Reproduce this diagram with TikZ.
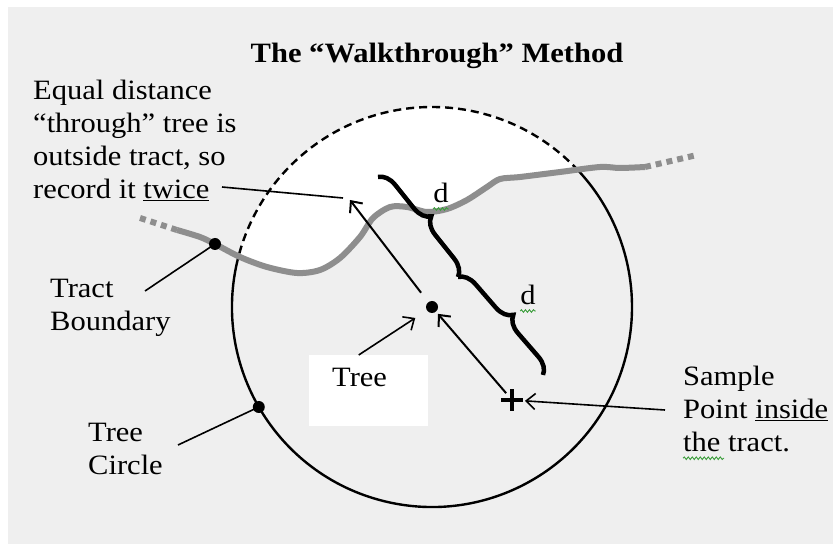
\documentclass[tikz,border=0pt]{standalone}
\usepackage{fontspec}
\setmainfont{Liberation Serif}[FakeStretch=1.09]
\usetikzlibrary{arrows.meta,decorations.pathreplacing,decorations.pathmorphing}
\definecolor{pagegray}{HTML}{EFEFEF}
\definecolor{tractgray}{HTML}{8E8E8E}
\definecolor{spellgreen}{HTML}{3C9E3C}

\begin{document}
\begin{tikzpicture}[x=1pt,y=1pt,
		lbl/.style={inner sep=0pt, font=\fontsize{28}{33}\selectfont, align=left},
		walk/.style={line width=2pt, -{Straight Barb[length=9pt,width=16pt]}},
		leader/.style={line width=1.6pt},
		tract/.style={line width=6pt, tractgray},
		tract end/.style={tract, dash pattern=on 6pt off 5pt},
		ring/.style={line width=2.4pt},
		bracket/.style={line width=4.5pt, decorate, decoration={brace, amplitude=17pt}},
		squig/.style={spellgreen, line width=0.9pt, decorate, decoration={snake, amplitude=1.3pt, segment length=4pt}},
		spot/.style={circle, fill=black, inner sep=0pt, minimum size=12pt}]
	\useasboundingbox (0,0) rectangle (833,544);
	\fill[white] (0,0) rectangle (833,544);
	\fill[pagegray] (8,0) rectangle (833,537);

	\coordinate (tree) at (432,237);
	\coordinate (sample) at (512,144);
	\coordinate (through) at (350,344);

	% part of the circle outside the tract
	\begin{scope}
		\clip (tree) circle (200);
		\fill[white] plot[smooth] coordinates {(177,314) (200,307) (215,300) (240,287) (267,277) (297,271) (320,274) (340,286) (360,307) (373,326) (390,337) (407,337) (427,332) (447,335) (467,344) (487,357) (500,365) (520,367) (560,372) (600,377) (620,376) (645,377)} -- (645,544) -- (177,544) -- cycle;
	\end{scope}

	% tree circle
	\draw[ring, dash pattern=on 8pt off 5pt] ([shift={(43:200)}]tree) arc[start angle=43, end angle=166, radius=200];
	\draw[ring] ([shift={(166:200)}]tree) arc[start angle=166, end angle=403, radius=200];

	% tract boundary
	\draw[tract] plot[smooth] coordinates {(177,314) (200,307) (215,300) (240,287) (267,277) (297,271) (320,274) (340,286) (360,307) (373,326) (390,337) (407,337) (427,332) (447,335) (467,344) (487,357) (500,365) (520,367) (560,372) (600,377) (620,376) (645,377)};
	\draw[tract end] (140,326) -- (177,314);
	\draw[tract end] (645,377) -- (697,389);

	\node[spot] (bdot) at (215,300) {};
	\node[spot] (cdot) at ([shift={(210:200)}]tree) {};
	\node[spot] (treedot) at (tree) {};
	\draw[line width=4.5pt] ([xshift=-11pt]sample) -- ([xshift=11pt]sample)
		([yshift=-11pt]sample) -- ([yshift=11pt]sample);

	% braces
	\coordinate (b1) at (378,367);
	\coordinate (b2) at (458,267);
	\coordinate (b3) at (543,169);
	\draw[bracket] (b1) -- (b2);
	\draw[bracket] (b2) -- (b3);
	\node[lbl, anchor=base] (d1) at (441,341) {d};
	\node[lbl, anchor=base] (d2) at (528,239) {d};
	\draw[squig] ([yshift=-6pt]d1.base west) -- ([yshift=-6pt]d1.base east);
	\draw[squig] ([yshift=-6pt]d2.base west) -- ([yshift=-6pt]d2.base east);

	% labels
	\node[lbl, font=\bfseries\fontsize{28}{33}\selectfont, anchor=base] (title) at (437,481) {The “Walkthrough” Method};
	\node[lbl, anchor=north west] (equal) at (33,464) {Equal distance\\“through” tree is\\outside tract, so\\record it \underline{twice}};
	\node[lbl, anchor=north west] (tractlbl) at (50,265) {Tract\\Boundary};
	\node[lbl, anchor=north west] (circlelbl) at (88,121) {Tree\\Circle};
	\node[lbl, anchor=north west] (samplelbl) at (683,178) {Sample\\Point \underline{inside}\\the tract.};
	\draw[squig] ([yshift=-6pt]samplelbl.south west) -- ++(41,0);
	\node[fill=white, font=\fontsize{28}{33}\selectfont, anchor=north west, inner xsep=23pt, inner ysep=13pt,
		text width=73pt, text height=18.5pt, text depth=26.5pt, align=left] (treebox) at (309,189) {Tree};

	% arrows and leaders
	\coordinate (twicept) at (222,357);
	\coordinate (tractpt) at (145,253);
	\coordinate (circlept) at (178,99);
	\coordinate (samplefoot) at (665,134);
	\draw[walk, shorten <=9pt, shorten >=9pt] (sample) -- (tree);
	\draw[walk, shorten <=18pt] (tree) -- (through);
	\draw[walk, line width=1.6pt, shorten >=20pt] ([xshift=-10pt]treebox.north) -- (tree);
	\draw[walk, line width=1.6pt, shorten >=13pt] (samplefoot) -- (sample);
	\draw[leader] (twicept) -- ([shift={(-7,2)}]through);
	\draw[leader] (tractpt) -- (bdot.center);
	\draw[leader] (circlept) -- (cdot.center);
\end{tikzpicture}
\end{document}
